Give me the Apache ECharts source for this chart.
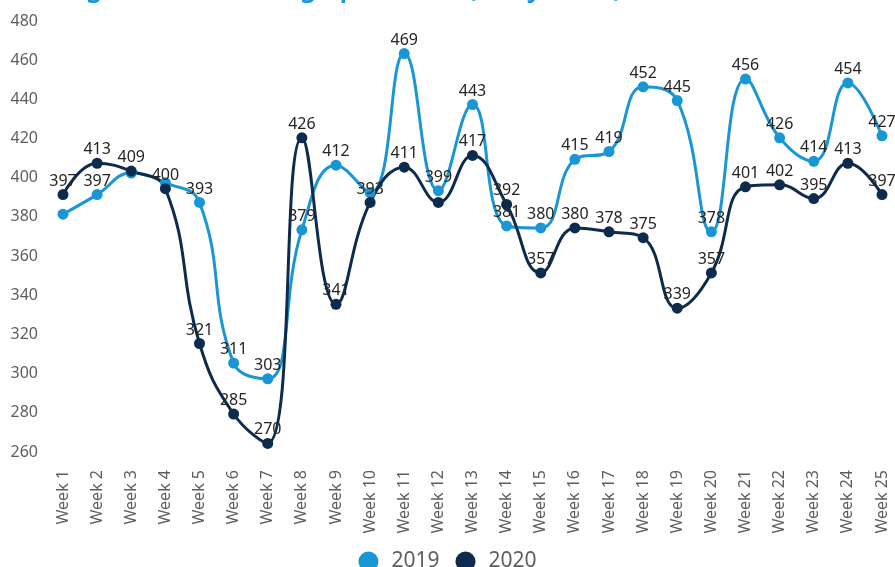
<!DOCTYPE html>
<html>
<head>
<meta charset="utf-8">
<script src="https://cdn.jsdelivr.net/npm/echarts@6/dist/echarts.min.js"></script>
<style>
  html, body { margin: 0; padding: 0; background: #fff; }
  #chart { width: 895px; height: 567px; }
</style>
</head>
<body>
<div id="chart"></div>
<script>
// data
const weeks = ['Week 1', 'Week 2', 'Week 3', 'Week 4', 'Week 5', 'Week 6', 'Week 7', 'Week 8', 'Week 9', 'Week 10',
  'Week 11', 'Week 12', 'Week 13', 'Week 14', 'Week 15', 'Week 16', 'Week 17', 'Week 18', 'Week 19', 'Week 20',
  'Week 21', 'Week 22', 'Week 23', 'Week 24', 'Week 25']
const values2019 = [387, 397, 408, 403, 393, 311, 303, 379, 412, 398, 469, 399, 443, 381, 380, 415, 419, 452, 445, 378, 456, 426, 414, 454, 427]
const values2020 = [397, 413, 409, 400, 321, 285, 270, 426, 341, 393, 411, 393, 417, 392, 357, 380, 378, 375, 339, 357, 401, 402, 395, 413, 397]
// labels that the original hides because they collide
const hidden2019 = [0, 2, 3, 9]
const hidden2020 = [11]
const yTicks = { min: 260, max: 480, interval: 20 }

const font = 'Noto Sans'

function buildData( values, hidden ) {
  return values.map( ( v, i ) => hidden.includes( i ) ? { value: v, label: { show: false } } : v )
}

function makeSeries( name, color, values, hidden ) {
  return {
    name: name,
    type: 'line',
    smooth: 0.45,
    symbol: 'circle',
    symbolSize: 11,
    lineStyle: { width: 3, color: color },
    itemStyle: { color: color },
    label: {
      show: true,
      position: 'top',
      distance: 0,
      fontFamily: font,
      fontSize: 16,
      color: '#252423'
    },
    data: buildData( values, hidden )
  }
}

const chart = echarts.init( document.getElementById( 'chart' ) )
chart.setOption( {
  animation: false,
  // title sits mostly above the visible area, only its descenders show
  title: {
    text: 'Average Footfall Change per Store (Daily Total)',
    left: 5,
    top: -30,
    textStyle: { fontFamily: font, fontSize: 27, fontWeight: 600, color: '#1a96d4' }
  },
  legend: {
    bottom: -10,
    left: 'center',
    icon: 'circle',
    itemWidth: 20,
    itemHeight: 20,
    itemGap: 16,
    textStyle: { fontFamily: font, fontSize: 21, color: '#605E5C', padding: [0, 0, 0, 8] },
    data: ['2019', '2020']
  },
  grid: { left: 63, right: 13, top: 32, bottom: 104 },
  xAxis: {
    type: 'category',
    boundaryGap: false,
    data: weeks,
    axisLine: { show: false },
    axisTick: { show: false },
    axisLabel: { rotate: 90, margin: 7, fontFamily: font, fontSize: 16, color: '#605E5C' }
  },
  yAxis: {
    type: 'value',
    min: yTicks.min,
    max: yTicks.max,
    interval: yTicks.interval,
    splitLine: { show: false },
    axisLine: { show: false },
    axisTick: { show: false },
    axisLabel: { margin: 25, verticalAlign: 'bottom', padding: [0, 0, 3, 0], fontFamily: font, fontSize: 16, color: '#605E5C' }
  },
  series: [
    makeSeries( '2019', '#1a96d4', values2019, hidden2019 ),
    makeSeries( '2020', '#0c2b4d', values2020, hidden2020 )
  ]
} )
</script>
</body>
</html>
